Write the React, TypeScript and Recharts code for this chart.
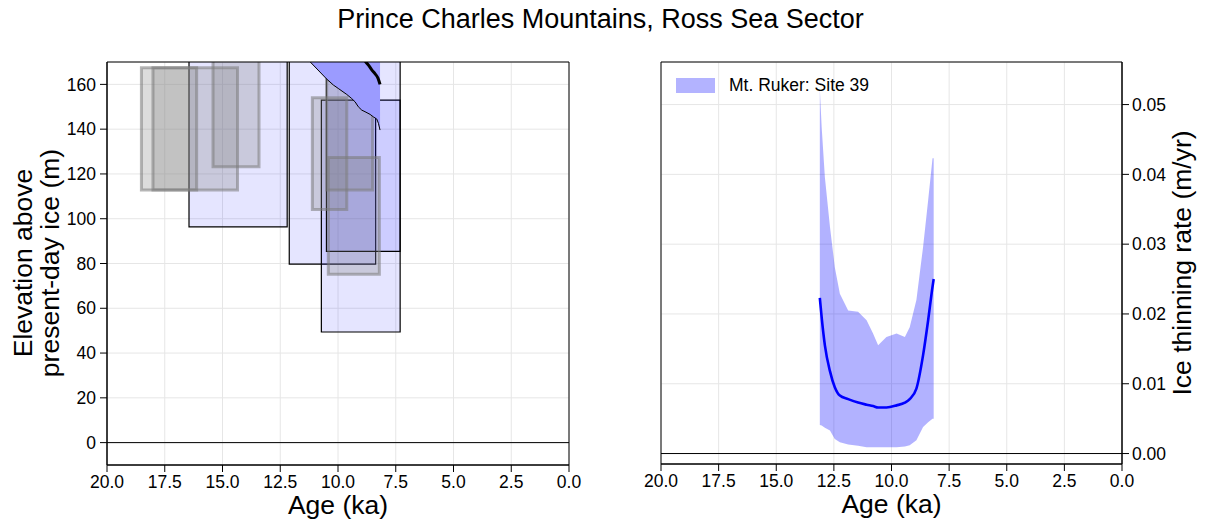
import React from 'react';
import {
  ComposedChart,
  XAxis,
  YAxis,
  CartesianGrid,
  Area,
  Line,
  ReferenceArea,
  ReferenceLine,
  Label,
} from 'recharts';

const FONT = '"Liberation Sans", Arial, Helvetica, sans-serif';

// Axis ticks
const ageTicks = [20, 17.5, 15, 12.5, 10, 7.5, 5, 2.5, 0];
const elevationTicks = [0, 20, 40, 60, 80, 100, 120, 140, 160];
const rateTicks = [0, 0.01, 0.02, 0.03, 0.04, 0.05];

// Exposure-age boxes: [older age (ka), younger age (ka), low elevation (m), high elevation (m)]
const erraticBoxes = [
  [18.51, 16.12, 112.8, 167.4],
  [18.01, 14.35, 112.8, 167.4],
  [15.41, 13.42, 123.2, 178],
  [11.11, 9.62, 104.1, 154.0],
  [10.49, 8.5, 112.8, 162.0],
  [10.42, 8.21, 75.2, 127.4],
];
const bedrockBoxes = [
  [16.45, 12.2, 96.4, 178],
  [12.11, 8.37, 79.7, 178],
  [10.72, 7.31, 49.4, 153.0],
  [10.5, 7.31, 85.4, 178],
];

// Modelled elevation envelope (lower edge; upper edge sits above the axis)
const envelopeAge = [11.4, 11.21, 10.49, 10.2, 9.99, 9.62, 9.41, 9.26, 9.12, 8.97, 8.83, 8.61, 8.47, 8.32, 8.25, 8.18];
const envelopeLow = [172.1, 170.1, 162.4, 159.7, 158.2, 155.5, 153.7, 152.2, 150.0, 148.5, 147.8, 146.6, 145.5, 144.5, 142.6, 139.6];
const envelopeTop = 200;

// Median modelled elevation
const medianElevAge = [8.88, 8.83, 8.68, 8.53, 8.4, 8.27, 8.18];
const medianElev = [171.0, 170.4, 168.6, 166.4, 164.8, 162.8, 160.0];

// Ice thinning rate (m/yr) for Mt. Ruker: Site 39
const rateAge = [13.11, 13.03, 12.89, 12.67, 12.46, 12.24, 11.88, 11.45, 11.08, 10.8, 10.58, 10.22, 9.78, 9.42, 9.21, 8.92, 8.63, 8.41, 8.22, 8.17];
const rateLow = [0.0041, 0.004, 0.0037, 0.0033, 0.0021, 0.0016, 0.0013, 0.0011, 0.0009, 0.0009, 0.0009, 0.0009, 0.0009, 0.001, 0.0012, 0.0019, 0.0038, 0.0045, 0.005, 0.005];
const rateHigh = [0.0523, 0.0468, 0.0396, 0.0325, 0.0267, 0.0229, 0.0205, 0.0203, 0.0191, 0.0172, 0.0155, 0.0167, 0.0172, 0.0167, 0.0181, 0.022, 0.0296, 0.0363, 0.0423, 0.0423];
const rateMedian = [0.0223, 0.0195, 0.0155, 0.0118, 0.0095, 0.0083, 0.0078, 0.0073, 0.007, 0.0068, 0.0066, 0.0066, 0.0069, 0.0073, 0.0078, 0.0093, 0.0141, 0.0191, 0.0239, 0.025];

const envelopeData = envelopeAge.map((age, i) => ({ age, band: [envelopeLow[i], envelopeTop], low: envelopeLow[i] }));
const medianElevData = medianElevAge.map((age, i) => ({ age, elev: medianElev[i] }));
const rateData = rateAge.map((age, i) => ({ age, band: [rateLow[i], rateHigh[i]], mid: rateMedian[i] }));

const ELEV_DOMAIN: [number, number] = [-10, 170];
const RATE_DOMAIN: [number, number] = [-0.0015, 0.0561];

const tickStyle = { fontSize: 17.5, fill: '#000', fontFamily: FONT };
const gridColor = '#e6e6e6';

const ageAxisLabel = (props: any) => {
  const vb = props.viewBox || {};
  return (
    <text x={vb.x + vb.width / 2} y={vb.y + 49} textAnchor="middle" fontSize={26.5} fontFamily={FONT} fill="#000">
      Age (ka)
    </text>
  );
};

const elevAxisLabel = () => {
  const cy = 263;
  return (
    <g fontFamily={FONT} fontSize={26.5} fill="#000">
      <text x={32} y={cy} textAnchor="middle" transform={`rotate(-90 32 ${cy})`}>
        Elevation above
      </text>
      <text x={58.5} y={cy} textAnchor="middle" transform={`rotate(-90 58.5 ${cy})`}>
        present-day ice (m)
      </text>
    </g>
  );
};

const rateAxisLabel = (props: any) => {
  const vb = props.viewBox || {};
  const x = vb.x + 69;
  const cy = 263;
  return (
    <text x={x} y={cy} textAnchor="middle" transform={`rotate(-90 ${x} ${cy})`} fontSize={26.5} fontFamily={FONT} fill="#000">
      Ice thinning rate (m/yr)
    </text>
  );
};

function ElevationPanel() {
  return (
    <ComposedChart
      width={600}
      height={526}
      margin={{ top: 62, right: 31, bottom: 0, left: 0 }}
      style={{ position: 'absolute', left: 0, top: 0 }}
    >
      <CartesianGrid stroke={gridColor} strokeWidth={1} />
      <XAxis
        dataKey="age"
        type="number"
        domain={[0, 20]}
        reversed
        allowDataOverflow
        ticks={ageTicks}
        interval={0}
        tickFormatter={(v: number) => v.toFixed(1)}
        tick={tickStyle}
        tickSize={7}
        tickMargin={4}
        height={61}
        stroke="#000"
      >
        <Label content={ageAxisLabel} />
      </XAxis>
      <YAxis
        type="number"
        domain={ELEV_DOMAIN}
        allowDataOverflow
        ticks={elevationTicks}
        interval={0}
        tick={tickStyle}
        tickSize={7}
        tickMargin={4}
        width={107}
        stroke="#000"
      >
        <Label content={elevAxisLabel} />
      </YAxis>
      <ReferenceLine y={0} stroke="#000" strokeWidth={1} ifOverflow="hidden" />
      {bedrockBoxes.map((b, i) => (
        <ReferenceArea
          key={`bed-${i}`}
          x1={b[0]}
          x2={b[1]}
          y1={b[2]}
          y2={b[3]}
          fill="#0000ff"
          fillOpacity={0.1}
          stroke="#000"
          strokeWidth={1.2}
          ifOverflow="hidden"
        />
      ))}
      {erraticBoxes.map((b, i) => (
        <ReferenceArea
          key={`err-${i}`}
          x1={b[0]}
          x2={b[1]}
          y1={b[2]}
          y2={b[3]}
          fill="#808080"
          fillOpacity={0.28}
          stroke="#7a7a7a"
          strokeOpacity={0.55}
          strokeWidth={3}
          ifOverflow="hidden"
        />
      ))}
      <Area
        data={envelopeData}
        dataKey="band"
        type="linear"
        fill="#9b9bff"
        fillOpacity={1}
        stroke="none"
        isAnimationActive={false}
      />
      <Line
        data={envelopeData}
        dataKey="low"
        type="linear"
        stroke="#000"
        strokeWidth={1}
        dot={false}
        isAnimationActive={false}
      />
      <Line
        data={medianElevData}
        dataKey="elev"
        type="monotoneX"
        stroke="#000"
        strokeWidth={3}
        dot={false}
        isAnimationActive={false}
      />
      <ReferenceArea x1={20} x2={0} y1={ELEV_DOMAIN[0]} y2={ELEV_DOMAIN[1]} fill="none" stroke="#000" strokeWidth={1} />
    </ComposedChart>
  );
}

function RatePanel() {
  return (
    <ComposedChart
      width={605}
      height={526}
      data={rateData}
      margin={{ top: 62, right: 0, bottom: 0, left: 61 }}
      style={{ position: 'absolute', left: 600, top: 0 }}
    >
      <CartesianGrid stroke={gridColor} strokeWidth={1} />
      <XAxis
        dataKey="age"
        type="number"
        domain={[0, 20]}
        reversed
        allowDataOverflow
        ticks={ageTicks}
        interval={0}
        tickFormatter={(v: number) => v.toFixed(1)}
        tick={tickStyle}
        tickSize={7}
        tickMargin={4}
        height={62}
        stroke="#000"
      >
        <Label content={ageAxisLabel} />
      </XAxis>
      <YAxis
        orientation="right"
        type="number"
        domain={RATE_DOMAIN}
        allowDataOverflow
        ticks={rateTicks}
        interval={0}
        tickFormatter={(v: number) => v.toFixed(2)}
        tick={tickStyle}
        tickSize={7}
        tickMargin={3}
        width={83}
        stroke="#000"
      >
        <Label content={rateAxisLabel} />
      </YAxis>
      <ReferenceLine y={0} stroke="#000" strokeWidth={1} />
      <Area
        dataKey="band"
        type="linear"
        fill="#0000ff"
        fillOpacity={0.3}
        stroke="none"
        isAnimationActive={false}
      />
      <Line
        dataKey="mid"
        type="monotoneX"
        stroke="#0000ff"
        strokeWidth={2.6}
        dot={false}
        isAnimationActive={false}
      />
      <ReferenceArea x1={20} x2={0} y1={RATE_DOMAIN[0]} y2={RATE_DOMAIN[1]} fill="none" stroke="#000" strokeWidth={1} />
    </ComposedChart>
  );
}

export default function App() {
  return (
    <div
      style={{
        position: 'absolute',
        left: 0,
        top: 0,
        width: 1205,
        height: 526,
        background: '#fff',
        fontFamily: FONT,
        overflow: 'hidden',
      }}
    >
      <div
        style={{
          position: 'absolute',
          left: 0,
          top: 5.5,
          width: 1201,
          textAlign: 'center',
          fontSize: 27,
          lineHeight: '27px',
          color: '#000',
        }}
      >
        Prince Charles Mountains, Ross Sea Sector
      </div>
      <ElevationPanel />
      <RatePanel />
      <div
        style={{
          position: 'absolute',
          left: 676,
          top: 77,
          display: 'flex',
          alignItems: 'center',
          height: 16,
          zIndex: 5,
        }}
      >
        <div style={{ width: 39, height: 15, background: '#b3b3ff' }} />
        <span style={{ marginLeft: 14, fontSize: 17.5, lineHeight: '16px', color: '#000' }}>Mt. Ruker: Site 39</span>
      </div>
    </div>
  );
}
